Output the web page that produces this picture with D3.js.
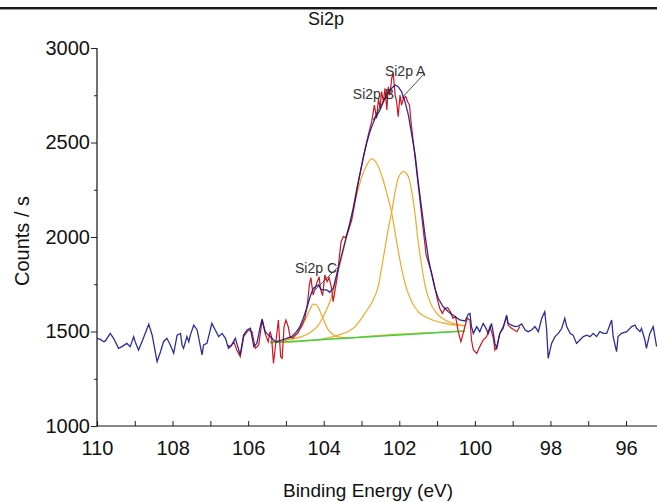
<!DOCTYPE html>
<html>
<head>
<meta charset="utf-8">
<script src="https://cdn.jsdelivr.net/npm/d3@7"></script>
<style>
  body { margin: 0; background: #fff; }
  text { font-family: "Liberation Sans", Arial, sans-serif; }
</style>
</head>
<body>
<div id="vis"></div>
<script>
var width = 657;
var height = 502;

// measured spectrum, [binding energy (eV), counts/s]
var blueLeft = [[110,1464],[109.91,1458],[109.82,1446],[109.78,1450],[109.65,1490],[109.56,1464],[109.43,1411],[109.34,1420],[109.21,1437],[109.12,1420],[109.03,1473],[108.99,1446],[108.90,1402],[108.81,1446],[108.63,1538],[108.54,1481],[108.41,1340],[108.32,1393],[108.24,1446],[108.15,1464],[108.06,1429],[107.97,1385],[107.88,1481],[107.79,1490],[107.75,1429],[107.71,1411],[107.62,1473],[107.57,1446],[107.53,1481],[107.44,1534],[107.35,1508],[107.22,1376],[107.18,1429],[107.09,1437],[106.96,1543],[106.87,1508],[106.78,1473],[106.69,1490],[106.60,1464],[106.52,1411],[106.43,1429],[106.34,1464],[106.21,1376],[106.12,1481],[106.03,1508],[105.94,1517],[105.85,1420],[105.77,1437],[105.68,1526],[105.63,1566],[105.55,1499],[105.46,1481],[105.37,1464]];

var envelope = [[105.33,1455],[105.25,1446],[105.11,1455],[104.98,1464],[104.85,1473],[104.72,1499],[104.63,1526],[104.54,1570],[104.45,1623],[104.36,1684],[104.28,1728],[104.14,1746],[104.06,1720],[103.92,1720],[103.84,1707],[103.75,1728],[103.66,1799],[103.57,1870],[103.48,1940],[103.39,2011],[103.31,2072],[103.22,2152],[103.13,2249],[103.04,2337],[102.95,2425],[102.86,2500],[102.78,2555],[102.73,2584],[102.64,2628],[102.51,2672],[102.38,2734],[102.25,2778],[102.11,2804],[102.03,2795],[101.94,2769],[101.85,2716],[101.76,2646],[101.67,2540],[101.58,2434],[101.5,2293],[101.41,2152],[101.32,2011],[101.23,1887],[101.14,1799],[101.06,1728],[100.97,1676],[100.84,1631],[100.7,1605],[100.53,1579],[100.40,1562],[100.26,1556]];

var blueRight = [[100.17,1593],[100.13,1596],[100.09,1526],[100.04,1490],[99.95,1526],[99.87,1499],[99.78,1543],[99.73,1526],[99.645,1490],[99.6,1517],[99.56,1543],[99.51,1490],[99.47,1437],[99.42,1411],[99.34,1490],[99.25,1517],[99.16,1587],[99.12,1543],[99.03,1534],[98.94,1526],[98.85,1529],[98.76,1540],[98.67,1508],[98.59,1499],[98.5,1508],[98.41,1526],[98.32,1499],[98.23,1570],[98.15,1605],[98.1,1508],[98.06,1358],[97.97,1437],[97.88,1473],[97.79,1490],[97.7,1517],[97.62,1570],[97.57,1526],[97.48,1490],[97.4,1481],[97.31,1437],[97.22,1455],[97.13,1473],[97.04,1481],[96.95,1473],[96.87,1490],[96.78,1473],[96.69,1499],[96.6,1490],[96.51,1490],[96.38,1561],[96.34,1473],[96.25,1393],[96.21,1473],[96.12,1490],[95.98,1499],[95.85,1526],[95.76,1534],[95.72,1517],[95.63,1499],[95.59,1517],[95.5,1455],[95.46,1411],[95.37,1490],[95.28,1526],[95.19,1420]];

var rawRed = [[106.56,1429],[106.47,1420],[106.38,1446],[106.3,1402],[106.21,1367],[106.12,1473],[105.99,1508],[105.9,1499],[105.81,1411],[105.72,1429],[105.63,1561],[105.55,1490],[105.47,1446],[105.42,1500],[105.38,1473],[105.33,1331],[105.26,1455],[105.2,1561],[105.14,1367],[105.1,1358],[105.05,1526],[105.0,1561],[104.94,1526],[104.89,1473],[104.82,1464],[104.75,1480],[104.69,1490],[104.58,1531],[104.5,1570],[104.43,1649],[104.38,1746],[104.34,1785],[104.28,1693],[104.23,1728],[104.18,1758],[104.12,1790],[104.09,1728],[104.03,1690],[103.97,1799],[103.91,1764],[103.86,1785],[103.79,1728],[103.75,1658],[103.7,1720],[103.65,1778],[103.6,1870],[103.54,1975],[103.48,2002],[103.42,1997],[103.35,2032],[103.26,2090],[103.17,2187],[103.08,2293],[102.99,2381],[102.91,2460],[102.82,2540],[102.73,2610],[102.66,2698],[102.6,2628],[102.55,2734],[102.51,2681],[102.47,2769],[102.42,2716],[102.38,2787],[102.33,2672],[102.29,2795],[102.25,2751],[102.2,2840],[102.16,2866],[102.11,2751],[102.07,2716],[102.03,2637],[101.98,2751],[101.94,2698],[101.89,2734],[101.83,2743],[101.78,2716],[101.73,2698],[101.69,2610],[101.63,2504],[101.57,2399],[101.5,2275],[101.43,2152],[101.36,2028],[101.29,1905],[101.21,1852],[101.14,1808],[101.07,1746],[101.0,1676],[100.93,1623],[100.86,1596],[100.79,1623],[100.72,1626],[100.65,1605],[100.58,1570],[100.51,1579],[100.44,1499],[100.37,1446],[100.32,1482],[100.26,1529],[100.2,1570],[100.13,1561],[100.09,1455],[100.04,1402],[99.95,1384],[99.87,1420],[99.78,1455],[99.69,1473],[99.6,1526],[99.51,1464],[99.47,1402],[99.42,1420],[99.34,1490],[99.25,1526],[99.16,1579],[99.12,1534],[99.03,1517],[98.89,1499],[98.81,1526]];

// fitted components (incl. background)
var compA = [[105.42,1442],[104.94,1443],[104.5,1450],[104.06,1460],[103.61,1481],[103.17,1526],[102.91,1596],[102.82,1623],[102.69,1667],[102.55,1746],[102.47,1834],[102.38,1940],[102.29,2046],[102.2,2134],[102.11,2240],[102.03,2310],[101.89,2346],[101.76,2319],[101.67,2240],[101.58,2116],[101.5,1975],[101.41,1852],[101.32,1746],[101.19,1658],[101.01,1596],[100.79,1561],[100.53,1541],[100.26,1531]];
var compB = [[105.42,1443],[105.11,1450],[104.85,1459],[104.58,1473],[104.36,1495],[104.14,1534],[103.97,1596],[103.79,1684],[103.66,1781],[103.53,1887],[103.39,2002],[103.26,2116],[103.13,2222],[102.99,2319],[102.86,2381],[102.73,2413],[102.6,2390],[102.47,2328],[102.33,2231],[102.2,2125],[102.07,1975],[101.94,1834],[101.81,1728],[101.67,1658],[101.5,1605],[101.23,1570],[100.88,1547],[100.35,1531],[100.26,1530]];
var compC = [[105.42,1442],[105.2,1447],[105.0,1455],[104.8,1475],[104.6,1520],[104.45,1579],[104.36,1619],[104.28,1645],[104.2,1643],[104.1,1608],[104.0,1560],[103.9,1515],[103.75,1483],[103.6,1470],[103.3,1466],[103.0,1472],[102.5,1480],[102.0,1486],[101.5,1491],[101.0,1496],[100.26,1502]];
var background = [[105.42,1440],[100.26,1502]];

// peak labels: [text, label energy, label counts, line from (e,c), line to (e,c)]
var peakLabels = [
  ["Si2p A", 102.38, 2850, [101.32, 2868], [101.94, 2734]],
  ["Si2p B", 103.23, 2730, [102.29, 2770], [102.69, 2619]],
  ["Si2p C", 104.76, 1810, [103.65, 1836], [104.23, 1720]]
];

var xMajor = [110, 108, 106, 104, 102, 100, 98, 96];
var xMinor = [109, 107, 105, 103, 101, 99, 97, 95];
var yMajor = [1000, 1500, 2000, 2500, 3000];
var yMinor = [1250, 1750, 2250, 2750];

var svg = d3.select("#vis")
            .append("svg")
            .attr("width", width)
            .attr("height", height)
            .style("display", "block");

// window frame line at the top
svg.append("rect").attr("x", 0).attr("y", 7).attr("width", width).attr("height", 2).style("fill", "#1a1a1a");
svg.append("rect").attr("x", 0).attr("y", 9).attr("width", width).attr("height", 1).style("fill", "#9a9a9a");

var x = d3.scaleLinear().domain([110, 95.18]).range([97, 657]);
var y = d3.scaleLinear().domain([1000, 3000]).range([426, 48]);

svg.append("defs").append("clipPath").attr("id", "plot")
   .append("rect").attr("x", 97).attr("y", 40).attr("width", 560).attr("height", 386);

var line = d3.line().x(d => x(d[0])).y(d => y(d[1]));
var smooth = d3.line().x(d => x(d[0])).y(d => y(d[1])).curve(d3.curveMonotoneX);

var g = svg.append("g").attr("clip-path", "url(#plot)");

[compC, compB, compA].forEach(function(c) {
  g.append("path").attr("d", smooth(c))
   .style("fill", "none").style("stroke", "#f4a82a").style("stroke-width", 1.2);
});

g.append("path").attr("d", line(background))
 .style("fill", "none").style("stroke", "#3ed43e").style("stroke-width", 1.5);

g.append("path").attr("d", line(rawRed))
 .style("fill", "none").style("stroke", "#d2141e").style("stroke-width", 1.2);

g.append("path").attr("d", line(blueLeft.concat(envelope, blueRight)))
 .style("fill", "none").style("stroke", "#16168e").style("stroke-width", 1.3)
 .style("stroke-opacity", 0.9);

// peak labels
peakLabels.forEach(function(p) {
  svg.append("line")
     .attr("x1", x(p[3][0])).attr("y1", y(p[3][1]))
     .attr("x2", x(p[4][0])).attr("y2", y(p[4][1]))
     .style("stroke", "#222").style("stroke-width", 0.8);
  svg.append("text")
     .attr("x", x(p[1])).attr("y", y(p[2]))
     .style("font-size", "14px").style("fill", "#333")
     .text(p[0]);
});

// axes
var yAxis = svg.append("g")
   .attr("transform", "translate(97,0)")
   .call(d3.axisLeft(y).tickValues(yMajor).tickSize(6).tickPadding(1).tickFormat(d3.format("d")));
svg.append("g")
   .attr("transform", "translate(97,0)")
   .call(d3.axisLeft(y).tickValues(yMinor).tickSize(3).tickFormat(""))
   .select(".domain").remove();

var xAxis = svg.append("g")
   .attr("transform", "translate(0,426)")
   .call(d3.axisBottom(x).tickValues(xMajor).tickSize(-5).tickPadding(15).tickFormat(d3.format("d")));
svg.append("g")
   .attr("transform", "translate(0,426)")
   .call(d3.axisBottom(x).tickValues(xMinor).tickSize(-5).tickFormat(""))
   .select(".domain").remove();

yAxis.select(".domain").remove();
xAxis.select(".domain").remove();
svg.append("line").attr("x1", 97).attr("x2", 97).attr("y1", 48).attr("y2", 426.5)
   .style("stroke", "#111").style("stroke-width", 1.2);
svg.append("line").attr("x1", 97).attr("x2", 657).attr("y1", 426).attr("y2", 426)
   .style("stroke", "#111").style("stroke-width", 1.2);

svg.selectAll(".tick line").style("stroke", "#222");
svg.selectAll(".tick text").style("font-size", "20px").style("fill", "#111")
   .style("font-family", "'Liberation Sans', Arial, sans-serif");

// titles
svg.append("text").attr("x", 326).attr("y", 25).attr("text-anchor", "middle")
   .style("font-size", "18px").style("fill", "#111").text("Si2p");
svg.append("text").attr("x", 368).attr("y", 497).attr("text-anchor", "middle")
   .style("font-size", "19px").style("fill", "#111").text("Binding Energy (eV)");
svg.append("text").attr("transform", "translate(29,241) rotate(-90)").attr("text-anchor", "middle")
   .style("font-size", "20px").style("fill", "#111").text("Counts / s");
</script>
</body>
</html>
